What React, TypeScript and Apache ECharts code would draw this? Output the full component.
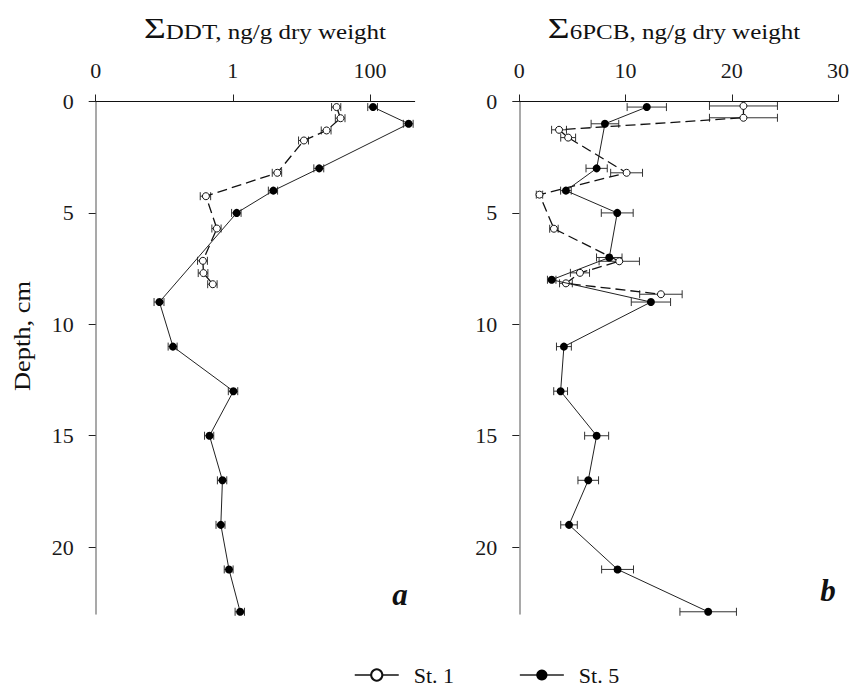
import React, { useEffect, useRef } from "react";
import * as echarts from "echarts";

const FONT = "'Liberation Serif', 'Times New Roman', serif";

// ---- ΣDDT (log scale), ng/g dry weight ----
const ddtDepthSt1 = [0.25, 0.75, 1.3, 1.75, 3.2, 4.25, 5.7, 7.15, 7.7, 8.2];
const ddtSt1 = [32.6, 37.3, 23.3, 10.9, 4.46, 0.405, 0.585, 0.366, 0.373, 0.51];
const ddtSt1Err = [5, 6, 3.8, 1.8, 0.7, 0.07, 0.09, 0.06, 0.06, 0.08];

const ddtDepthSt5 = [0.25, 1, 3, 4, 5, 9, 11, 13, 15, 17, 19, 21, 22.9];
const ddtSt5 = [111, 367, 18.2, 3.9, 1.14, 0.085, 0.134, 1.02, 0.457, 0.706, 0.669, 0.88, 1.28];
const ddtSt5Err = [18, 60, 3, 0.6, 0.18, 0.014, 0.02, 0.16, 0.07, 0.11, 0.1, 0.13, 0.2];

// ---- Σ6PCB, ng/g dry weight ----
const pcbDepthSt1 = [0.2, 0.73, 1.27, 1.62, 3.2, 4.18, 5.71, 7.17, 7.69, 8.16, 8.65];
const pcbSt1 = [21.1, 21.1, 3.74, 4.6, 10.1, 1.9, 3.26, 9.41, 5.71, 4.39, 13.33];
const pcbSt1Err = [3.2, 3.2, 0.7, 0.7, 1.5, 0.3, 0.4, 1.9, 0.9, 0.6, 2.0];

const pcbDepthSt5 = [0.25, 1, 3, 4, 5, 7, 8, 9, 11, 13, 15, 17, 19, 21, 22.9];
const pcbSt5 = [12.0, 8.06, 7.28, 4.39, 9.22, 8.47, 3.05, 12.39, 4.2, 3.89, 7.28, 6.49, 4.68, 9.25, 17.78];
const pcbSt5Err = [1.85, 1.3, 1.0, 0.5, 1.5, 1.2, 0.4, 1.85, 0.7, 0.65, 1.13, 0.97, 0.78, 1.5, 2.66];

// ---- axes ----
const depthTicks = [0, 5, 10, 15, 20];
const ddtTicks = [0.01, 1, 100];
const pcbTicks = [0, 10, 20, 30];
const seriesNames = ["St. 1", "St. 5"];

const pts = (xs: number[], ds: number[]) => xs.map((v, i) => [v, ds[i]]);
const errPts = (xs: number[], ds: number[], es: number[]) => xs.map((v, i) => [v, ds[i], es[i]]);

function errRender(_params: any, api: any) {
  const x = api.value(0);
  const y = api.value(1);
  const e = api.value(2);
  const lo = api.coord([x - e, y]);
  const hi = api.coord([x + e, y]);
  const h = 4;
  const style = { stroke: "#333", lineWidth: 1, fill: "none" };
  return {
    type: "group",
    children: [
      { type: "line", shape: { x1: lo[0], y1: lo[1], x2: hi[0], y2: hi[1] }, style },
      { type: "line", shape: { x1: lo[0], y1: lo[1] - h, x2: lo[0], y2: lo[1] + h }, style },
      { type: "line", shape: { x1: hi[0], y1: hi[1] - h, x2: hi[0], y2: hi[1] + h }, style },
    ],
  };
}

const labelStyle = { fontSize: 22, fontFamily: FONT, color: "#1a1a1a" };

function yAxis(gridIndex: number) {
  return {
    gridIndex,
    type: "value",
    inverse: true,
    min: 0,
    max: 23,
    interval: 5,
    axisLine: { show: true, lineStyle: { color: "#8c8c8c", width: 1.5 } },
    axisTick: { show: true, length: 7, customValues: depthTicks, lineStyle: { color: "#222", width: 1 } },
    axisLabel: { ...labelStyle, margin: 22, customValues: depthTicks },
    splitLine: { show: false },
  };
}

function titleText(x: number, rest: string) {
  return {
    type: "text",
    x,
    y: 28,
    scaleX: 1.25,
    style: {
      text: `{s|Σ}{t|${rest}}`,
      align: "center",
      verticalAlign: "middle",
      fill: "#111",
      rich: {
        s: { fontSize: 30, fontFamily: FONT, verticalAlign: "bottom", fill: "#111" },
        t: { fontSize: 20, fontFamily: FONT, verticalAlign: "bottom", fill: "#111", padding: [0, 0, 1, 0] },
      },
    },
  };
}

export default function App() {
  const ref = useRef<HTMLDivElement>(null);
  useEffect(() => {
    if (!ref.current) return;
    const chart = echarts.init(ref.current, undefined, { renderer: "svg" });
    const st1Line = { type: [10, 5], color: "#111", width: 1.3 };
    const st5Line = { type: "solid", color: "#222", width: 1 };
    const st1Item = { color: "#fff", borderColor: "#111", borderWidth: 1 };
    const st5Item = { color: "#000", borderColor: "#000", borderWidth: 0 };
    chart.setOption({
      animation: false,
      backgroundColor: "#fff",
      grid: [
        { left: 95.7, top: 101.5, width: 319, height: 512.5 },
        { left: 519.3, top: 101.5, width: 319, height: 512.5 },
      ],
      xAxis: [
        {
          gridIndex: 0,
          type: "log",
          logBase: 10,
          min: 0.01,
          max: 450,
          position: "top",
          axisLine: { show: true, onZero: false, lineStyle: { color: "#111", width: 1 } },
          axisTick: { show: true, length: 7, customValues: ddtTicks, lineStyle: { color: "#222" } },
          axisLabel: {
            ...labelStyle,
            margin: 20,
            customValues: ddtTicks,
            formatter: (v: number) => (v < 0.5 ? "0" : String(Math.round(v))),
          },
          splitLine: { show: false },
        },
        {
          gridIndex: 1,
          type: "value",
          min: 0,
          max: 30,
          interval: 10,
          position: "top",
          axisLine: { show: true, onZero: false, lineStyle: { color: "#111", width: 1 } },
          axisTick: { show: true, length: 7, customValues: pcbTicks, lineStyle: { color: "#222" } },
          axisLabel: { ...labelStyle, margin: 20, customValues: pcbTicks },
          splitLine: { show: false },
        },
      ],
      yAxis: [yAxis(0), yAxis(1)],
      legend: {
        data: [
          { name: seriesNames[0], lineStyle: { type: "solid", width: 1.5 } },
          { name: seriesNames[1], lineStyle: { width: 1.5 } },
        ],
        left: 354,
        top: 664,
        padding: 0,
        itemWidth: 44,
        itemHeight: 14,
        itemGap: 65,
        textStyle: {
          fontSize: 22,
          lineHeight: 20,
          fontFamily: FONT,
          color: "#111",
          padding: [0, 0, 0, 10],
        },
      },
      graphic: [
        titleText(265, "DDT, ng/g dry weight"),
        titleText(674, "6PCB, ng/g dry weight"),
        {
          type: "text",
          x: 22,
          y: 336,
          rotation: Math.PI / 2,
          scaleX: 1.1,
          style: {
            text: "Depth, cm",
            font: `24px ${FONT}`,
            align: "center",
            verticalAlign: "middle",
            fill: "#111",
          },
        },
        {
          type: "text",
          x: 400,
          y: 610,
          style: {
            text: "a",
            font: `italic bold 31px ${FONT}`,
            align: "center",
            verticalAlign: "bottom",
            fill: "#111",
          },
        },
        {
          type: "text",
          x: 828,
          y: 606,
          style: {
            text: "b",
            font: `italic bold 31px ${FONT}`,
            align: "center",
            verticalAlign: "bottom",
            fill: "#111",
          },
        },
      ],
      series: [
        {
          type: "custom",
          xAxisIndex: 0,
          yAxisIndex: 0,
          renderItem: errRender,
          data: errPts(ddtSt1, ddtDepthSt1, ddtSt1Err),
          z: 1,
        },
        {
          type: "custom",
          xAxisIndex: 0,
          yAxisIndex: 0,
          renderItem: errRender,
          data: errPts(ddtSt5, ddtDepthSt5, ddtSt5Err),
          z: 1,
        },
        {
          type: "custom",
          xAxisIndex: 1,
          yAxisIndex: 1,
          renderItem: errRender,
          data: errPts(pcbSt1, pcbDepthSt1, pcbSt1Err),
          z: 1,
        },
        {
          type: "custom",
          xAxisIndex: 1,
          yAxisIndex: 1,
          renderItem: errRender,
          data: errPts(pcbSt5, pcbDepthSt5, pcbSt5Err),
          z: 1,
        },
        {
          name: seriesNames[0],
          type: "line",
          xAxisIndex: 0,
          yAxisIndex: 0,
          data: pts(ddtSt1, ddtDepthSt1),
          symbol: "circle",
          symbolSize: 7,
          lineStyle: st1Line,
          itemStyle: st1Item,
          z: 2,
        },
        {
          name: seriesNames[1],
          type: "line",
          xAxisIndex: 0,
          yAxisIndex: 0,
          data: pts(ddtSt5, ddtDepthSt5),
          symbol: "circle",
          symbolSize: 8,
          lineStyle: st5Line,
          itemStyle: st5Item,
          z: 3,
        },
        {
          name: seriesNames[0],
          type: "line",
          xAxisIndex: 1,
          yAxisIndex: 1,
          data: pts(pcbSt1, pcbDepthSt1),
          symbol: "circle",
          symbolSize: 7,
          lineStyle: st1Line,
          itemStyle: st1Item,
          z: 2,
        },
        {
          name: seriesNames[1],
          type: "line",
          xAxisIndex: 1,
          yAxisIndex: 1,
          data: pts(pcbSt5, pcbDepthSt5),
          symbol: "circle",
          symbolSize: 8,
          lineStyle: st5Line,
          itemStyle: st5Item,
          z: 3,
        },
      ],
    });
    return () => chart.dispose();
  }, []);
  return (
    <div
      ref={ref}
      style={{ position: "fixed", left: 0, top: 0, width: 852, height: 686, background: "#fff" }}
    />
  );
}
